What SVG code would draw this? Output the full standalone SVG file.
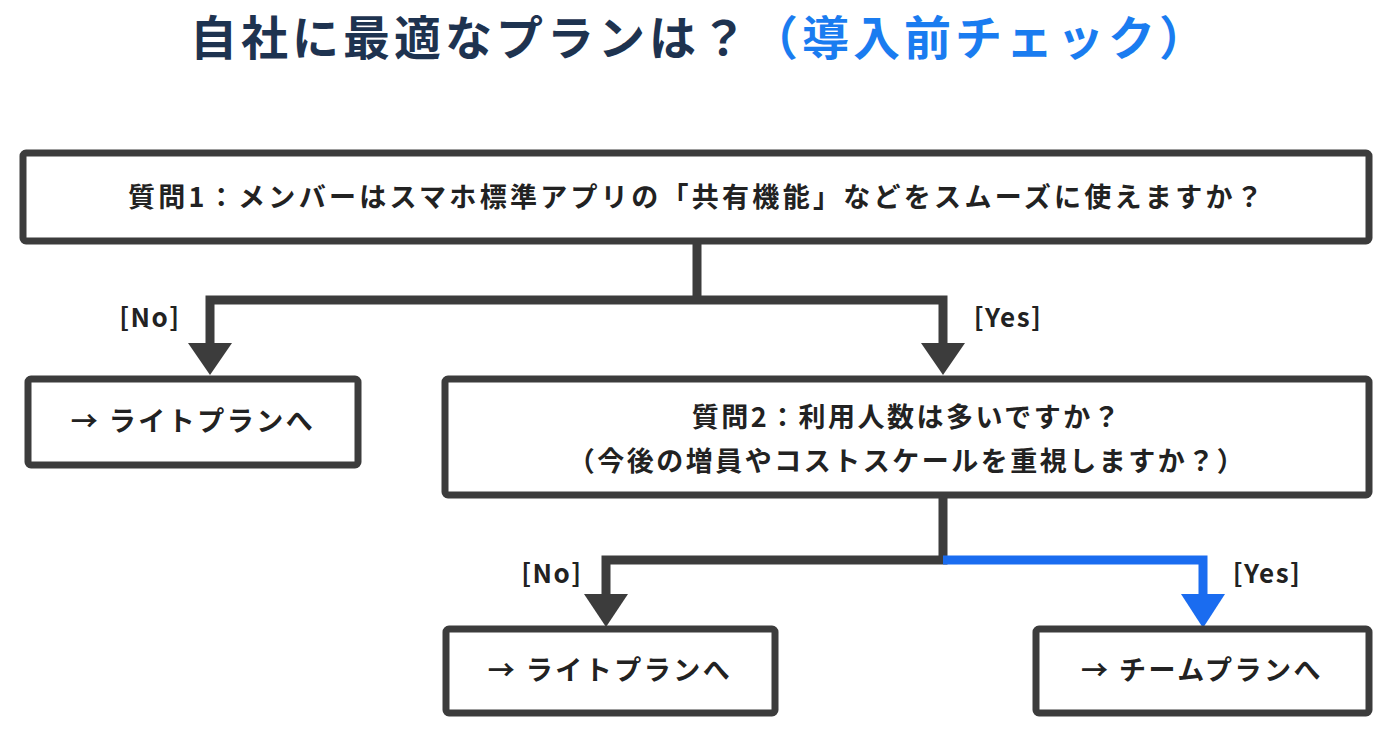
<svg xmlns="http://www.w3.org/2000/svg" width="1400" height="729" viewBox="0 0 1400 729">
<style>
.box{fill:#fff;stroke:#3c3c3c;stroke-width:7}
.t{font-family:"Noto Sans CJK JP","Noto Sans",sans-serif;font-weight:bold;fill:#222;text-anchor:middle;font-size:27px;letter-spacing:2.5px}
.lb{font-size:26px;letter-spacing:1.5px}
.ln{fill:none;stroke:#3c3c3c;stroke-width:9}
.bl{fill:none;stroke:#1a6cf0;stroke-width:9}
</style>
<rect width="1400" height="729" fill="#fff"/>
<text x="700" y="55" class="t" style="fill:#1e3350;font-size:47px;letter-spacing:4px">自社に最適なプランは？<tspan style="fill:#1a7cf0">（導入前チェック）</tspan></text>
<g id="connectors">
<path class="ln" d="M697 242V300H210V345M697 300H943V345"/>
<polygon points="188,343 232,343 210,375" fill="#3c3c3c"/>
<polygon points="921,343 965,343 943,375" fill="#3c3c3c"/>
<path class="ln" d="M943 495V560H606V596"/>
<path class="bl" d="M943 560H1203V596"/>
<polygon points="584,594 628,594 606,627" fill="#3c3c3c"/>
<polygon points="1181,594 1225,594 1203,628" fill="#1a6cf0"/>
<text x="150" y="327" class="t lb">[No]</text>
<text x="1008" y="327" class="t lb">[Yes]</text>
<text x="552" y="583" class="t lb">[No]</text>
<text x="1267" y="583" class="t lb">[Yes]</text>
</g>
<g id="q1"><rect class="box" x="23" y="153" width="1346" height="88" rx="3"/>
<text x="697" y="207" class="t" style="letter-spacing:3.3px">質問1：メンバーはスマホ標準アプリの「共有機能」などをスムーズに使えますか？</text></g>
<g id="lite1"><rect class="box" x="28" y="379" width="330" height="86" rx="3"/>
<text x="193" y="431" class="t">→ ライトプランへ</text></g>
<g id="q2"><rect class="box" x="445" y="379" width="924" height="116" rx="3"/>
<text x="907" y="427" class="t">質問2：利用人数は多いですか？</text>
<text x="907" y="471" class="t">（今後の増員やコストスケールを重視しますか？）</text></g>
<g id="lite2"><rect class="box" x="446" y="629" width="329" height="84" rx="3"/>
<text x="610" y="680" class="t">→ ライトプランへ</text></g>
<g id="team"><rect class="box" x="1036" y="629" width="333" height="84" rx="3"/>
<text x="1202" y="680" class="t">→ チームプランへ</text></g>
</svg>
